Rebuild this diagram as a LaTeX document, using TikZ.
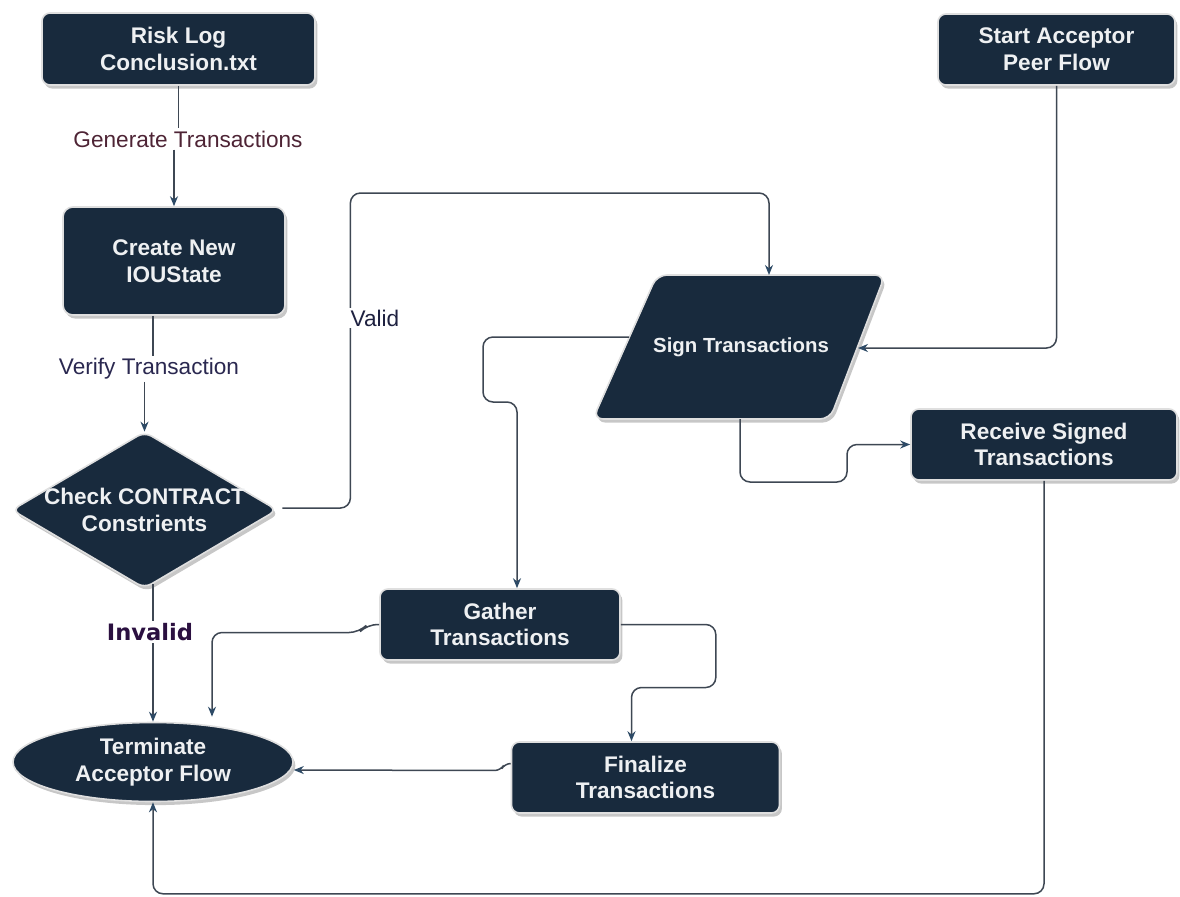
\documentclass[tikz,border=0pt]{standalone}
\usepackage{fontspec}
\setmainfont{Liberation Sans}
\newfontfamily\dejavu{DejaVu Sans}
\usetikzlibrary{arrows.meta, shapes.geometric, shadows, calc}

\definecolor{boxfill}{HTML}{182A3D}
\definecolor{boxtext}{HTML}{EEF0F2}
\definecolor{edge}{HTML}{3E4753}
\definecolor{tipc}{HTML}{2D4A66}
\definecolor{genc}{HTML}{4E2435}
\definecolor{verc}{HTML}{2A2850}
\definecolor{valc}{HTML}{1E2140}
\definecolor{invc}{HTML}{2B1040}

\tikzset{
  x=0.5pt, y=-0.5pt,
  boxshadow/.style={drop shadow={shadow xshift=1.2pt, shadow yshift=-1.8pt, opacity=0.22, fill=black}},
  boxbody/.style={fill=boxfill, draw=gray!25, line width=0.8pt, boxshadow},
  boxlabel/.style={text=boxtext, font=\fontsize{11.3}{13.4}\selectfont\bfseries, align=center, inner sep=0pt},
  flow/.style={boxbody, boxlabel},
  stepbox/.style={flow, rectangle, rounded corners=4pt},
  endcap/.style={flow, ellipse},
  conn/.style={draw=edge, line width=0.75pt, rounded corners=5pt},
  arr/.style={conn, -{Stealth[length=5pt, width=4pt, color=tipc]}},
  lbl/.style={font=\fontsize{11.3}{13}\selectfont, fill=white, inner sep=1pt},
}

\begin{document}
\begin{tikzpicture}
\fill[white] (0,0) rectangle (1180,896);
\useasboundingbox (0,0) rectangle (1180,896);

% ---- process boxes ----
\node[stepbox, minimum width=136.5pt, minimum height=36pt] (risk) at (178.5,49) {Risk Log\\Conclusion.txt};
\node[stepbox, rounded corners=5pt, minimum width=111pt, minimum height=54pt] (create) at (174,261) {Create New\\IOUState};
\node[endcap, minimum width=140pt, minimum height=39.5pt] (terminate) at (153,762) {Terminate\\Acceptor Flow};
\node[stepbox, minimum width=118.5pt, minimum height=35.5pt] (start) at (1056.5,49.5) {Start Acceptor\\Peer Flow};
\node[stepbox, minimum width=133pt, minimum height=35.5pt] (receive) at (1044,444.5) {Receive Signed\\Transactions};
\node[stepbox, minimum width=120pt, minimum height=35.5pt] (gather) at (500,624.5) {Gather\\Transactions};
\node[stepbox, minimum width=134pt, minimum height=35.5pt] (finalize) at (645.5,777.5) {Finalize\\Transactions};

% ---- decision diamond (body drawn first, text node spans its corners) ----
\coordinate (diac) at (144.5,510);
\path[boxbody, rounded corners=4pt]
  ($(diac)+(-132.5,0)$) -- ($(diac)+(0,-78)$) -- ($(diac)+(132.5,0)$) -- ($(diac)+(0,78)$) -- cycle;
\node[boxlabel, minimum width=132.5pt, minimum height=78pt] (diamond) at (diac) {Check CONTRACT\\Constrients};

% ---- slanted input/output shape ----
\coordinate (signc) at (741,347);
\path[boxbody, rounded corners=5pt]
  ($(signc)+(-84,-72)$) -- ($(signc)+(144,-72)$) -- ($(signc)+(89,72)$) -- ($(signc)+(-148,72)$) -- cycle;
\node[boxlabel, font=\fontsize{10.2}{12}\selectfont\bfseries] (sign) at (signc) {Sign Transactions};
\coordinate (signN) at ($(sign)+(28,-72)$);
\coordinate (signE) at ($(sign)+(117,1)$);
\coordinate (signW) at ($(sign)+(-112,-10)$);
\coordinate (signS) at ($(sign)+(-1,72)$);

% ---- edge labels ----
\node[lbl, text=genc] (genlbl) at (188,139) {Generate Transactions};
\node[lbl, text=verc] (verlbl) at (149,369) {Verify Transaction};
\node[lbl, text=invc, font=\dejavu\fontsize{11.3}{13}\selectfont\bfseries] (invlbl) at (150,632) {Invalid};
\coordinate (createout) at ($(create.south)+(-21,0)$);

% ---- connectors ----
\draw[conn] (risk.south) -- (risk.south |- genlbl.north);
\draw[arr] (create.north |- genlbl.south) -- (create.north);

\draw[conn] (createout) -- (createout |- verlbl.north);
\draw[arr] (diamond.north |- verlbl.south) -- (diamond.north);

\draw[conn] ($(terminate.north |- diamond.south)+(0,-4)$) -- (terminate.north |- invlbl.north);
\draw[arr] (terminate.north |- invlbl.south) -- (terminate.north);

\draw[arr] ($(diamond.east)+(5,-2)$) -- ++(68,0) -- ++(0,-315) -| (signN);
\node[lbl, text=valc] (validlbl) at (375,318) {Valid};

\draw[arr] (start.south) |- (signE);
\draw[arr] (signW) -- ++(-146,0) -- ++(0,65) -| ($(gather.north)+(17,0)$);
\draw[arr] (signS) -- ++(0,63) -- ++(107,0) |- (receive.west);

\draw[arr] (gather.west) -- ++(-12,0) -- ++(-8,8) -| ($(terminate.north)+(59,-5)$);
\draw[arr] (gather.east) -- ++(95,0) -- ++(0,63) -| ($(finalize.north)+(-14,0)$);
\draw[arr, rounded corners=3pt] ($(finalize.west)+(0,-14)$) -- ++(-6,0) -- ++(-4,7) -- ($(terminate.east)+(0,8)$);
\draw[arr] (receive.south) -- ++(0,413) -| (terminate.south);
\end{tikzpicture}
\end{document}
